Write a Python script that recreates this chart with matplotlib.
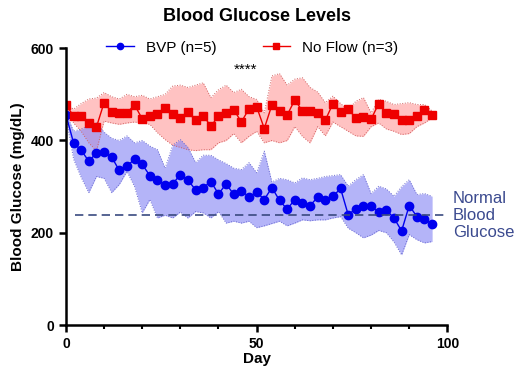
import numpy as np
import matplotlib
matplotlib.use("Agg")
import matplotlib.pyplot as plt
from matplotlib.ticker import MultipleLocator

plt.rcParams['font.family'] = ['Liberation Sans', 'DejaVu Sans']

# Data
days = list(range(0, 97, 2))

bvp_mean = [456, 395, 379, 355, 373, 375, 364, 335, 344, 360, 348, 324, 315, 304, 306, 326,
            314, 293, 298, 311, 284, 306, 283, 291, 278, 288, 272, 298, 270, 251, 272, 264,
            259, 277, 272, 279, 296, 239, 252, 257, 257, 245, 249, 232, 204, 259, 235, 230, 220]
bvp_upper = [460, 420, 425, 432, 438, 418, 405, 400, 410, 395, 400, 388, 380, 340, 390, 402,
             385, 352, 368, 368, 358, 350, 340, 337, 352, 330, 377, 310, 318, 315, 308, 319,
             315, 318, 322, 324, 326, 301, 315, 326, 285, 301, 295, 279, 300, 315, 283, 285, 279]
bvp_lower = [452, 360, 320, 287, 322, 318, 287, 305, 333, 300, 243, 272, 232, 238, 232, 245,
             232, 246, 243, 232, 246, 221, 225, 221, 225, 211, 215, 220, 225, 215, 221, 228,
             226, 228, 228, 232, 235, 210, 200, 189, 195, 205, 200, 180, 152, 196, 185, 178, 181]

noflow_mean = [478, 453, 453, 438, 429, 482, 462, 460, 460, 477, 447, 454, 458, 470, 458, 448,
               462, 444, 454, 431, 453, 459, 467, 440, 469, 473, 426, 477, 465, 455, 488, 464,
               464, 460, 444, 480, 462, 469, 448, 451, 446, 480, 460, 458, 444, 444, 454, 467, 455]
noflow_upper = [480, 468, 480, 490, 492, 504, 495, 490, 500, 495, 498, 490, 495, 500, 518, 520,
                515, 520, 525, 493, 510, 520, 504, 511, 495, 489, 460, 540, 545, 520, 533, 536,
                515, 505, 482, 496, 480, 467, 485, 493, 460, 489, 485, 478, 480, 482, 478, 478, 464]
noflow_lower = [476, 438, 420, 395, 377, 442, 438, 435, 438, 440, 438, 435, 417, 402, 390, 385,
                380, 378, 380, 380, 395, 400, 415, 395, 409, 420, 395, 400, 395, 400, 430, 409,
                395, 430, 410, 440, 430, 420, 410, 409, 430, 438, 425, 420, 413, 415, 430, 438, 449]

normal_glucose = 238

fig = plt.figure(figsize=(5.19, 3.74), dpi=100)
ax = fig.add_axes([0.127, 0.131, 0.735, 0.74])

# shaded SEM bands
ax.fill_between(days, noflow_lower, noflow_upper, color='#ff9a9a', alpha=0.6, lw=0)
ax.plot(days, noflow_upper, color='#d06060', lw=0.7, ls=':')
ax.plot(days, noflow_lower, color='#d06060', lw=0.7, ls=':')
ax.fill_between(days, bvp_lower, bvp_upper, color='#8c8cf5', alpha=0.65, lw=0)
ax.plot(days, bvp_upper, color='#6a6ad0', lw=0.7, ls=':')
ax.plot(days, bvp_lower, color='#6a6ad0', lw=0.7, ls=':')

ax.plot(days, bvp_mean, color='#0000ee', lw=1.0, marker='o', ms=6, label='BVP (n=5)')
ax.plot(days, noflow_mean, color='#ee0000', lw=1.0, marker='s', ms=6, label='No Flow (n=3)')

# normal glucose reference
ax.hlines(normal_glucose, 2.5, 99, colors='#3a4a80', linestyles=(0, (5, 3)), lw=1.2)
ax.text(101.5, normal_glucose, 'Normal\nBlood\nGlucose', color='#3b4a8f', fontsize=12,
        ha='left', va='center', linespacing=1.15)

ax.text(47, 553, '****', ha='center', va='center', fontsize=11)

ax.set_xlim(0, 100)
ax.set_ylim(0, 600)
ax.xaxis.set_major_locator(MultipleLocator(50))
ax.xaxis.set_minor_locator(MultipleLocator(10))
ax.yaxis.set_major_locator(MultipleLocator(200))
for s in ['top', 'right']:
    ax.spines[s].set_visible(False)
for s in ['left', 'bottom']:
    ax.spines[s].set_linewidth(1.8)
ax.tick_params(which='major', width=1.8, length=5, labelsize=10)
ax.tick_params(which='minor', width=1.5, length=3)
for lab in ax.get_xticklabels() + ax.get_yticklabels():
    lab.set_fontweight('bold')

ax.set_xlabel('Day', fontweight='bold', fontsize=11, labelpad=1)
ax.set_ylabel('Blood Glucose (mg/dL)', fontweight='bold', fontsize=11)
fig.text(0.495, 0.955, 'Blood Glucose Levels', ha='center', va='center', fontweight='bold', fontsize=13)

ax.legend(loc='lower left', bbox_to_anchor=(0.09, 0.955), ncol=2, frameon=False, fontsize=11,
          columnspacing=3.0, handlelength=1.8, borderaxespad=0, markerscale=0.75)

fig.savefig('out.png', dpi=100)
